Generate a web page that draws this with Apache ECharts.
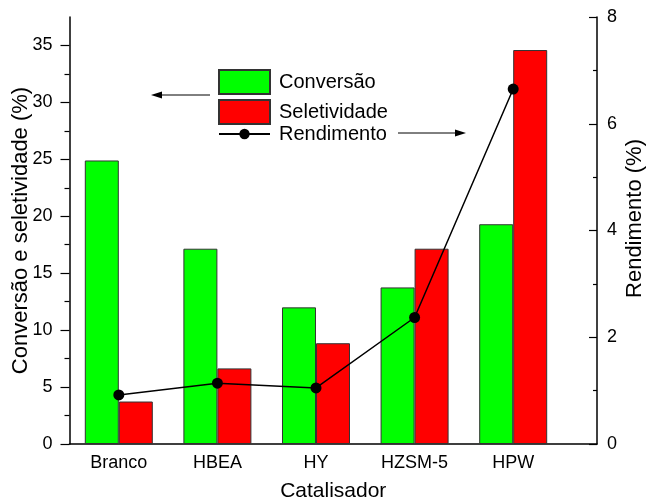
<!DOCTYPE html>
<html>
<head>
<meta charset="utf-8">
<script src="https://cdn.jsdelivr.net/npm/echarts@6/dist/echarts.min.js"></script>
<style>
html,body{margin:0;padding:0;background:#fff;}
#chart{width:647px;height:502px;}
</style>
</head>
<body>
<div id="chart"></div>
<script>
const categories = ['Branco', 'HBEA', 'HY', 'HZSM-5', 'HPW'];
const conversao = [24.9, 17.15, 12.0, 13.75, 19.3];
const seletividade = [3.73, 6.64, 8.85, 17.15, 34.6];
const rendimento = [0.92, 1.14, 1.05, 2.37, 6.65];
const leftTicks = [0, 5, 10, 15, 20, 25, 30, 35];
const leftMinorTicks = [2.5, 7.5, 12.5, 17.5, 22.5, 27.5, 32.5];
const rightTicks = [0, 2, 4, 6, 8];

const positions = categories.map((c, i) => i + 1);
const FONT = "'Liberation Sans', Arial, sans-serif";

const chart = echarts.init(document.getElementById('chart'), null, {renderer: 'canvas'});

function arrow(x1, x2, y) {
  const dir = x2 > x1 ? 1 : -1;
  return {
    type: 'group',
    children: [
      {type: 'line', shape: {x1: x1, y1: y, x2: x2 - dir * 6, y2: y}, style: {stroke: '#000', lineWidth: 1}},
      {type: 'polygon', shape: {points: [[x2, y], [x2 - dir * 11, y - 3.5], [x2 - dir * 11, y + 3.5]]}, style: {fill: '#000'}}
    ]
  };
}

chart.setOption({
  animation: false,
  textStyle: {fontFamily: FONT, color: '#000'},
  grid: {left: 69.5, right: 50, top: 17, bottom: 58, containLabel: false, outerBoundsMode: 'none'},
  legend: [
    {
      data: ['Conversão', 'Seletividade'],
      orient: 'vertical', left: 218, top: 69, padding: 0,
      icon: 'rect',
      itemWidth: 51, itemHeight: 24, itemGap: 4,
      textStyle: {fontSize: 20, lineHeight: 24, fontFamily: FONT, color: '#000', padding: [0, 0, 0, 4]},
      selectedMode: false
    },
    {
      data: ['Rendimento'],
      orient: 'vertical', left: 218, top: 122, padding: 0,
      itemWidth: 51, itemHeight: 13,
      textStyle: {fontSize: 20, lineHeight: 24, fontFamily: FONT, color: '#000', padding: [0, 0, 0, 4]},
      selectedMode: false
    }
  ],
  xAxis: {
    type: 'value', min: 0.5, max: 5.85,
    splitLine: {show: false},
    axisLine: {show: true, lineStyle: {color: '#000', width: 1.5}},
    axisTick: {show: false},
    axisLabel: {
      customValues: positions,
      formatter: v => categories[Math.round(v) - 1] || '',
      fontSize: 18, color: '#000', fontFamily: FONT, margin: 10
    },
    name: 'Catalisador', nameLocation: 'middle', nameGap: 37, nameMoveOverlap: false,
    nameTextStyle: {fontSize: 21, color: '#000', fontFamily: FONT}
  },
  yAxis: [
    {
      type: 'value', position: 'left', min: 0, max: 37.5,
      splitLine: {show: false},
      axisLine: {show: true, lineStyle: {color: '#000', width: 1.5}},
      axisTick: {show: true, customValues: leftTicks, length: 9, lineStyle: {color: '#000', width: 1.2}},
      axisLabel: {customValues: leftTicks, fontSize: 18, color: '#000', fontFamily: FONT, margin: 17},
      name: 'Conversão e seletividade (%)', nameLocation: 'middle', nameGap: 38, nameRotate: 90, nameMoveOverlap: false,
      nameTextStyle: {fontSize: 22, color: '#000', fontFamily: FONT}
    },
    {
      type: 'value', position: 'right', min: 0, max: 8, interval: 2,
      splitLine: {show: false},
      axisLine: {show: true, lineStyle: {color: '#000', width: 1.5}},
      axisTick: {show: true, inside: true, length: 8, lineStyle: {color: '#000', width: 1.2}},
      minorTick: {show: true, splitNumber: 2, length: 4, lineStyle: {color: '#000', width: 1.2}},
      axisLabel: {customValues: rightTicks, fontSize: 18, color: '#000', fontFamily: FONT, margin: 10},
      name: 'Rendimento (%)', nameLocation: 'middle', nameGap: 27, nameRotate: 90, nameMoveOverlap: false,
      nameTextStyle: {fontSize: 22, color: '#000', fontFamily: FONT, padding: [0, 0, 0, 24]}
    },
    {
      type: 'value', position: 'left', min: 0, max: 37.5,
      splitLine: {show: false},
      axisLine: {show: false},
      axisTick: {show: true, customValues: leftMinorTicks, length: 5, lineStyle: {color: '#000', width: 1.2}},
      axisLabel: {show: false}
    }
  ],
  series: [
    {
      name: 'Conversão', type: 'bar', xAxisIndex: 0, yAxisIndex: 0,
      barWidth: 34, barGap: '0%',
      itemStyle: {color: '#00ff00', borderColor: '#333', borderWidth: 1},
      data: conversao.map((v, i) => [positions[i], v])
    },
    {
      name: 'Seletividade', type: 'bar', xAxisIndex: 0, yAxisIndex: 0,
      barWidth: 34, barGap: '0%',
      itemStyle: {color: '#ff0000', borderColor: '#333', borderWidth: 1},
      data: seletividade.map((v, i) => [positions[i], v])
    },
    {
      name: 'Rendimento', type: 'line', xAxisIndex: 0, yAxisIndex: 1,
      symbol: 'circle', symbolSize: 11,
      lineStyle: {color: '#000', width: 1.5},
      itemStyle: {color: '#000'},
      data: rendimento.map((v, i) => [positions[i], v]),
      z: 5
    }
  ],
  graphic: [
    arrow(210, 151, 95),
    arrow(398, 466, 133)
  ]
});
</script>
</body>
</html>
